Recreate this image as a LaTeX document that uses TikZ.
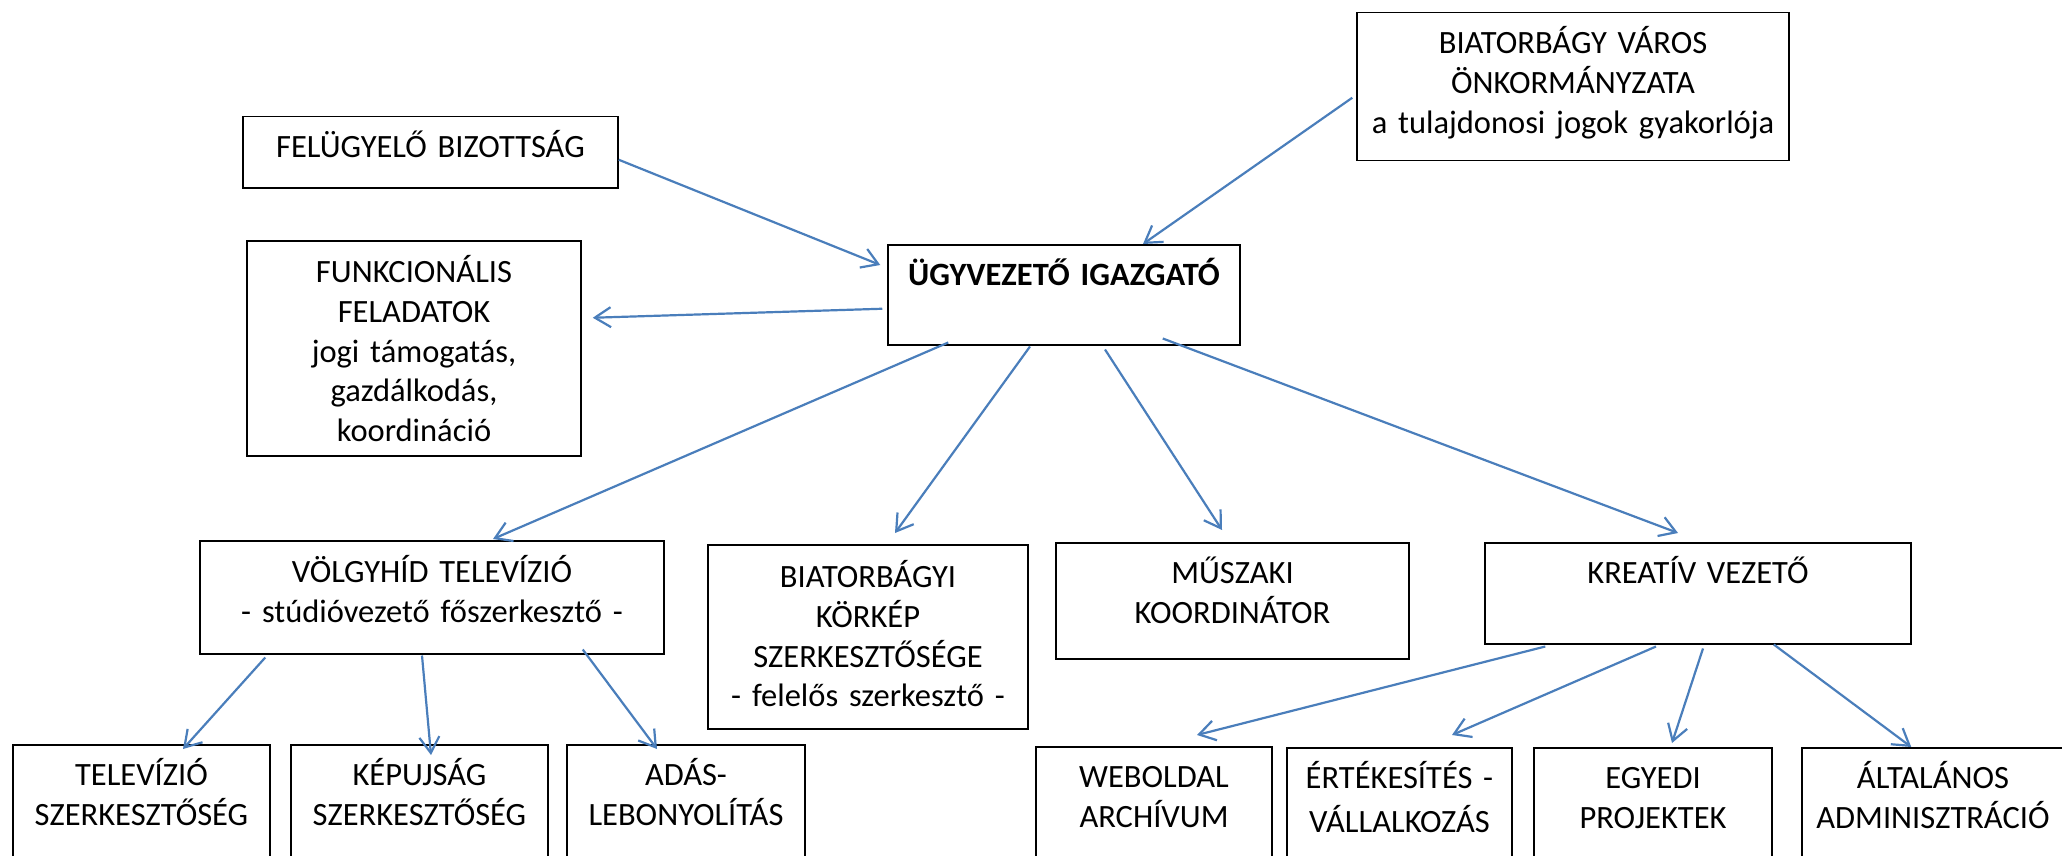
\documentclass[tikz,border=0pt]{standalone}
\usepackage{fontspec}
\setmainfont{Carlito}
\usetikzlibrary{arrows.meta,calc}

\definecolor{arrowblue}{HTML}{4A7EBB}

\tikzset{
  box/.style={draw, line width=1.5pt, inner sep=0pt, align=center, anchor=north},
  arr/.style={arrowblue, line width=2.2pt, -{Straight Barb[length=16pt,width=20pt]}}
}

\begin{document}
\begin{tikzpicture}[x=1pt,y=-1pt,font=\fontsize{32.5}{39.7}\selectfont]
		\useasboundingbox (0,0) rectangle (2062,856);
		\clip (0,0) rectangle (2062,856);
		\node[box, text width=375pt, text height=41pt, text depth=30pt] (fb) at (430.5,116) {FELÜGYELŐ BIZOTTSÁG};
		\node[box, text width=432pt, text height=41pt, text depth=107pt] (onk) at (1573,12) {BIATORBÁGY VÁROS\\ ÖNKORMÁNYZATA\\ a tulajdonosi jogok gyakorlója};
		\node[box, text width=352pt, text height=41pt, text depth=59pt, font=\fontsize{32.5}{39.7}\selectfont\bfseries] (ugy) at (1064,244) {ÜGYVEZETŐ IGAZGATÓ};
		\node[box, text width=334pt, text height=42pt, text depth=173pt] (fun) at (414,240) {FUNKCIONÁLIS\\ FELADATOK\\ jogi támogatás,\\ gazdálkodás,\\ koordináció};
		\node[box, text width=464pt, text height=42pt, text depth=71pt] (vtv) at (432,540) {VÖLGYHÍD TELEVÍZIÓ\\ - stúdióvezető főszerkesztő -};
		\node[box, text width=320pt, text height=43pt, text depth=141pt] (bk) at (868,544) {BIATORBÁGYI\\ KÖRKÉP\\ SZERKESZTŐSÉGE\\ - felelős szerkesztő -};
		\node[box, text width=353pt, text height=41pt, text depth=75pt] (msz) at (1232.5,542) {MŰSZAKI\\ KOORDINÁTOR};
		\node[box, text width=426pt, text height=41pt, text depth=60pt] (kv) at (1698,542) {KREATÍV VEZETŐ};
		\node[box, text width=257pt, text height=41pt, text depth=140pt] (tsz) at (141.5,744) {TELEVÍZIÓ\\ SZERKESZTŐSÉG};
		\node[box, text width=257pt, text height=41pt, text depth=140pt] (ksz) at (419.5,744) {KÉPUJSÁG\\ SZERKESZTŐSÉG};
		\node[box, text width=238pt, text height=41pt, text depth=140pt] (adas) at (686,744) {ADÁS-\\ LEBONYOLÍTÁS};
		\node[box, text width=236pt, text height=41pt, text depth=140pt] (web) at (1154,746) {WEBOLDAL\\ ARCHÍVUM};
		\node[box, text width=225pt, text height=41pt, text depth=140pt] (ert) at (1399.5,747) {ÉRTÉKESÍTÉS -\\[4pt] VÁLLALKOZÁS};
		\node[box, text width=238pt, text height=41pt, text depth=140pt] (egy) at (1653,747) {EGYEDI\\ PROJEKTEK};
		\node[box, text width=262pt, text height=41pt, text depth=140pt] (alt) at (1933,747) {ÁLTALÁNOS\\ ADMINISZTRÁCIÓ};
		\draw[arr] ($(fb.east)+(0,7.5)$) -- ($(ugy.north west)+(-7,21)$);
		\draw[arr] ($(onk.west)+(-4,11)$) -- ($(ugy.north)+(79,0)$);
		\draw[arr] ($(ugy.west)+(-5,14)$) -- ($(fun.east)+(11,-30.5)$);
		\draw[arr] ($(ugy.south west)+(61,-3)$) -- ($(vtv.north)+(61,-1)$);
		\draw[arr] ($(ugy.south)+(-34,1)$) -- ($(bk.north)+(27,-11)$);
		\draw[arr] ($(ugy.south)+(41,4)$) -- ($(msz.north)+(-10.5,-12)$);
		\draw[arr] ($(ugy.south east)+(-78,-7)$) -- ($(kv.north)+(-20,-9)$);
		\draw[arr] ($(vtv.south west)+(66,3)$) -- ($(tsz.north)+(41.5,5)$);
		\draw[arr] ($(vtv.south)+(-10,1)$) -- ($(ksz.north)+(11.5,11)$);
		\draw[arr] ($(vtv.south east)+(-82,-5)$) -- ($(adas.north)+(-29,5)$);
		\draw[arr] ($(kv.south west)+(61,2)$) -- ($(web.north)+(43,-11)$);
		\draw[arr] ($(kv.south)+(-42,2)$) -- ($(ert.north)+(52.5,-12)$);
		\draw[arr] ($(kv.south)+(5,4)$) -- ($(egy.north)+(19,-4)$);
		\draw[arr] ($(kv.south east)+(-138,0)$) -- ($(alt.north west)+(110,0)$);
	    \end{tikzpicture}
\end{document}
